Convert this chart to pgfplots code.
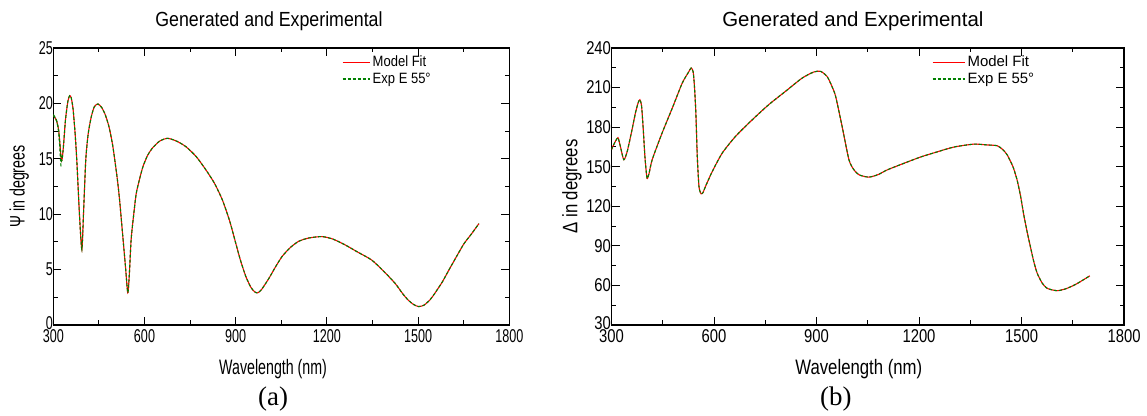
\documentclass[border=0pt]{standalone}
\usepackage{fontspec}
\setmainfont{Liberation Sans}
\newfontfamily\Lsmall[FakeStretch=0.68]{Liberation Sans}
\newfontfamily\Lmid[FakeStretch=0.87]{Liberation Sans}
\newfontfamily\Rsmall[FakeStretch=0.80]{Liberation Sans}
\newfontfamily\Rmid[FakeStretch=1.0]{Liberation Sans}
\newfontfamily\capfont{Liberation Serif}
\usepackage{pgfplots}
\pgfplotsset{compat=1.18}

\definecolor{fitred}{HTML}{FF0000}
\definecolor{expgreen}{HTML}{008000}

\pgfplotstableread{
wl psi
300 18.9
310 18.5
318 17.5
327 14.8
333 16.0
340 18.5
348 20.2
354 20.7
359 20.5
365 19.5
372 17.2
378 14.5
386 10.0
394 6.8
400 10.5
407 15.0
415 17.3
425 18.8
435 19.7
447 19.95
460 19.6
472 18.9
484 17.8
496 16.1
510 13.3
518 11.3
528 8.2
537 5.4
545 2.9
550 4.5
556 7.7
565 10.1
573 11.9
585 13.3
595 14.3
610 15.3
627 16.0
650 16.6
676 16.85
705 16.6
736 16.1
770 15.2
802 14.0
830 12.8
856 11.3
880 9.4
900 7.4
915 5.9
933 4.4
950 3.4
962 3.0
972 2.9
985 3.2
1009 4.2
1030 5.2
1053 6.2
1080 7.0
1107 7.55
1140 7.85
1184 7.98
1220 7.75
1260 7.23
1300 6.6
1347 5.87
1385 4.9
1424 3.77
1450 2.8
1467 2.26
1485 1.85
1502 1.66
1520 1.8
1540 2.3
1555 2.86
1580 3.9
1600 4.9
1620 5.87
1650 7.3
1675 8.2
1700 9.15
}\psifit

\pgfplotstableread{
wl psi
300 19.0
310 18.5
318 17.3
325 14.4
327 14.3
}\psiexpa

\pgfplotstableread{
wl delta
300 163
305 166
312 169.5
319 172
326 165.4
336 155.3
346 161.6
360 178
370 190.7
378 198.5
383 200.8
388 196
393 178
398 157
404 141.3
410 145
419 155.3
448 175.5
478 194.5
507 213.4
525 221.5
533 224.8
539 222
543 210
547 190
551 158
556 135
562 129.5
568 130.5
575 135
595 146.4
624 160.3
663 173
712 185.6
760 197
809 207.1
858 217.2
892 221.8
912 222.3
931 218.4
945 211
956 203.3
975 180.5
995 155.2
1010 147.5
1025 143.8
1053 142.1
1080 144
1107 147.6
1150 152
1204 157.3
1250 161
1302 164.9
1360 167.1
1400 166.5
1429 165.9
1445 163
1458 159
1475 150
1487 140
1497 128
1507 113
1517 100
1526 89.4
1536 78
1546 69.2
1560 62
1575 57.8
1604 56
1630 57.5
1660 61
1700 67.3
}\deltafit

\pgfplotsset{
  ellips/.style={
    scale only axis, clip mode=individual,
    tick align=inside, tick pos=both,
    minor x tick num=1, minor y tick num=1,
    major tick length=8bp, minor tick length=4.5bp,
    axis line style={line width=1.1bp, black},
    every tick/.style={black, line width=1bp},
    /pgf/number format/assume math mode=true,
    /pgf/number format/1000 sep={},
    xmin=300, xmax=1800, xtick={300,600,...,1800},
    yticklabel style={xshift=3bp},
    xticklabel style={yshift=-1bp},
    legend style={draw=none, fill=none, inner sep=0pt, anchor=west,
      row sep=2.6bp, column sep=2.5bp, cells={anchor=west},
      nodes={inner sep=0pt, text height=11bp, text depth=3bp}},
  },
  fit/.style={fitred, line width=1.1bp, smooth, tension=0.4},
  exp/.style={expgreen, line width=1.1bp, dash pattern=on 3bp off 2bp, smooth, tension=0.4},
}

\begin{document}
\begin{tikzpicture}
\path[use as bounding box] (0bp,0bp) rectangle (1147bp,416bp);

% (a) Psi
\begin{axis}[ellips,
  at={(53.3bp,91bp)}, anchor=south west,
  width=456bp, height=277bp,
  ymin=0, ymax=25, ytick={0,5,...,25},
  yticklabels={\raisebox{4bp}{0},5,10,15,20,25},
  tick label style={font=\Lsmall\fontsize{18.6}{20}\selectfont},
  every axis title/.style={at={(axis description cs:0.473,1.0758)}, anchor=base,
    font=\Lmid\fontsize{20.5}{22}\selectfont},
  every axis x label/.style={at={(axis description cs:0.482,-0.177)}, anchor=base,
    font=\Lsmall\fontsize{21}{23}\selectfont},
  every axis y label/.style={at={(axis description cs:-0.075,0.5)}, anchor=center, rotate=90,
    font=\Lsmall\fontsize{21}{23}\selectfont},
  title={Generated and Experimental},
  xlabel={Wavelength (nm)},
  ylabel={Ψ in degrees},
  legend style={at={(axis description cs:0.633,0.918)},
    font=\Lmid\fontsize{15}{17}\selectfont},
  legend image code/.code={\draw[#1] (0bp,0bp) -- (27bp,0bp);},
]
\addplot[fit] table[x=wl, y=psi] {\psifit};
\addlegendentry{Model Fit}
\addplot[exp] table[x=wl, y=psi] {\psifit};
\addlegendentry{Exp E 55\textdegree}
\addplot[exp, forget plot] table[x=wl, y=psi] {\psiexpa};
\node[font=\capfont\fontsize{27}{30}\selectfont, anchor=base] at (axis description cs:0.482,-0.292) {(a)};
\end{axis}

% (b) Delta
\begin{axis}[ellips,
  at={(611.5bp,91bp)}, anchor=south west,
  width=512.5bp, height=277bp,
  ymin=30, ymax=240, ytick={30,60,...,240},
  yticklabels={\raisebox{4bp}{30},60,90,120,150,180,210,240},
  tick label style={font=\Rsmall\fontsize{18.6}{20}\selectfont},
  every axis title/.style={at={(axis description cs:0.471,1.0758)}, anchor=base,
    font=\Rmid\fontsize{20.5}{22}\selectfont},
  every axis x label/.style={at={(axis description cs:0.4825,-0.177)}, anchor=base,
    font=\Rsmall\fontsize{21}{23}\selectfont},
  every axis y label/.style={at={(axis description cs:-0.077,0.5)}, anchor=center, rotate=90,
    font=\Rsmall\fontsize{21}{23}\selectfont},
  title={Generated and Experimental},
  xlabel={Wavelength (nm)},
  ylabel={Δ in degrees},
  legend style={at={(axis description cs:0.625,0.918)},
    font=\Rmid\fontsize{15}{17}\selectfont},
  legend image code/.code={\draw[#1] (0bp,0bp) -- (32bp,0bp);},
]
\addplot[fit] table[x=wl, y=delta] {\deltafit};
\addlegendentry{Model Fit}
\addplot[exp] table[x=wl, y=delta] {\deltafit};
\addlegendentry{Exp E 55\textdegree}
\node[font=\capfont\fontsize{27}{30}\selectfont, anchor=base] at (axis description cs:0.4377,-0.292) {(b)};
\end{axis}
\end{tikzpicture}
\end{document}
